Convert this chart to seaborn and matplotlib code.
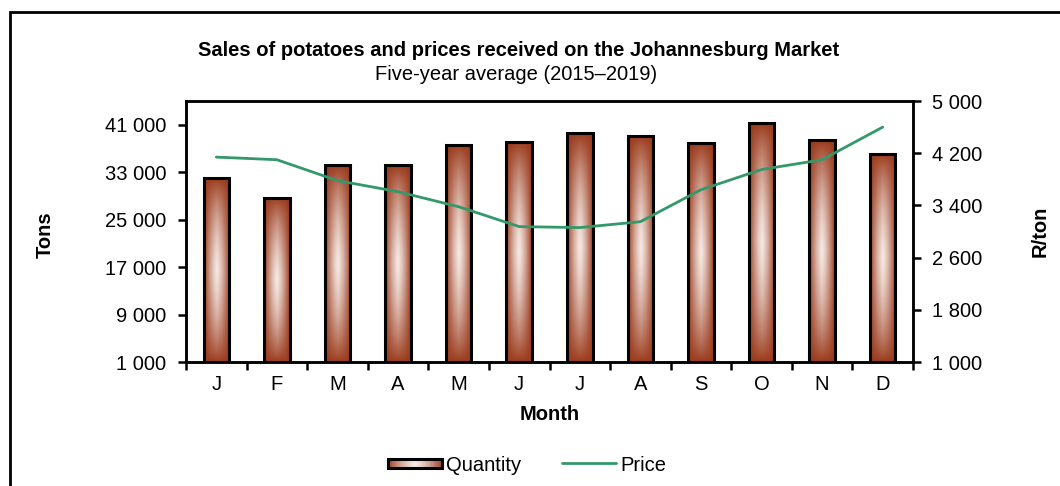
import numpy as np
import pandas as pd
import seaborn as sns
import matplotlib.pyplot as plt
from matplotlib.patches import Rectangle
from matplotlib.lines import Line2D
from matplotlib.legend_handler import HandlerBase
from matplotlib.ticker import FixedLocator, FuncFormatter

# data
month_keys = ['Jan', 'Feb', 'Mar', 'Apr', 'May', 'Jun', 'Jul', 'Aug', 'Sep', 'Oct', 'Nov', 'Dec']
month_labels = ['J', 'F', 'M', 'A', 'M', 'J', 'J', 'A', 'S', 'O', 'N', 'D']
quantity = [32000, 28700, 34200, 34200, 37600, 38100, 39600, 39150, 38000, 41250, 38400, 36100]
price = [4140, 4100, 3780, 3610, 3380, 3075, 3060, 3150, 3640, 3950, 4100, 4600]

tons_ticks = [1000, 9000, 17000, 25000, 33000, 41000]
price_ticks = [1000, 1800, 2600, 3400, 4200, 5000]

dark = np.array([0.60, 0.22, 0.10])
light = np.array([0.96, 0.91, 0.89])
line_color = '#33996a'
fs = 14.5

sns.set_style('white')
plt.rcParams['font.family'] = ['Liberation Sans', 'DejaVu Sans']
plt.rcParams['font.size'] = fs
plt.rcParams['text.color'] = 'black'
plt.rcParams['axes.labelcolor'] = 'black'
plt.rcParams['xtick.color'] = 'black'
plt.rcParams['ytick.color'] = 'black'

df = pd.DataFrame({'month': month_keys, 'quantity': quantity, 'price': price})

fig = plt.figure(figsize=(10.6, 4.86), dpi=100)
ax = fig.add_axes([186 / 1060, 1 - 362 / 486, (913 - 186) / 1060, (362 - 101) / 486])

sns.barplot(data=df, x='month', y='quantity', order=month_keys, ax=ax,
            width=0.42, color=dark, edgecolor='black', linewidth=2.2, zorder=3)

ymin, ymax = 1000, 45000


def gradient(nx=60, ny=200):
    u = np.linspace(-1, 1, nx)
    v = np.linspace(-1, 1, ny)
    U, V = np.meshgrid(u, v)
    t = (1 - np.abs(U) ** 1.3) ** 0.9 * (1 - np.abs(V) ** 1.4) ** 0.8
    return dark + t[..., None] * (light - dark)


grad = gradient()
for p in ax.patches:
    p.set_facecolor('none')
    x0, w, top = p.get_x(), p.get_width(), p.get_y() + p.get_height()
    ax.imshow(grad, extent=[x0, x0 + w, ymin, top], aspect='auto',
              origin='lower', zorder=2, interpolation='bilinear')

ax.set_xlim(-0.5, 11.5)
ax.set_ylim(ymin, ymax)
ax.set_aspect('auto')

# x ticks at the category boundaries, labels at the centres
ax.xaxis.set_major_locator(FixedLocator(np.arange(-0.5, 12, 1)))
ax.xaxis.set_minor_locator(FixedLocator(np.arange(12)))
ax.set_xticklabels([''] * 13)
ax.set_xticklabels(month_labels, minor=True)
ax.tick_params(axis='x', which='major', direction='out', length=6, width=1.8, bottom=True)
ax.tick_params(axis='x', which='minor', length=0, pad=9, labelsize=fs)

fmt = FuncFormatter(lambda v, pos: f'{v:,.0f}'.replace(',', ' '))
ax.set_yticks(tons_ticks)
ax.yaxis.set_major_formatter(fmt)
ax.tick_params(axis='y', direction='out', length=6, width=1.8, left=True, labelsize=fs, pad=8)

for s in ax.spines.values():
    s.set_color('black')
    s.set_linewidth(1.8)

ax.set_xlabel('Month', fontweight='bold', fontsize=fs, labelpad=8, color='black')
ax.set_ylabel('')

ax2 = ax.twinx()
sns.lineplot(x=np.arange(12), y=price, ax=ax2, color=line_color, linewidth=2.0, zorder=4)
ax2.set_ylim(1000, 5000)
ax2.set_xlim(-0.5, 11.5)
ax2.set_yticks(price_ticks)
ax2.yaxis.set_major_formatter(fmt)
ax2.tick_params(axis='y', direction='out', length=6, width=1.8, right=True, labelsize=fs, pad=8)
for s in ax2.spines.values():
    s.set_color('black')
    s.set_linewidth(1.8)

fig.text(45 / 1060, 1 - 235 / 486, 'Tons', rotation=90, fontweight='bold',
         ha='center', va='center', fontsize=fs)
fig.text(1040 / 1060, 1 - 231 / 486, 'R/ton', rotation=90, fontweight='bold',
         ha='center', va='center', fontsize=fs)

fig.text(519 / 1060, 1 - 50 / 486, 'Sales of potatoes and prices received on the Johannesburg Market',
         ha='center', va='center', fontweight='bold', fontsize=fs)
fig.text(516 / 1060, 1 - 74 / 486, 'Five-year average (2015\u20132019)',
         ha='center', va='center', fontsize=fs)


class GradientHandler(HandlerBase):
    def create_artists(self, legend, orig_handle, xdescent, ydescent, width, height, fontsize, trans):
        arts = []
        n = 40
        hh = height * 0.7
        y0 = -ydescent + (height - hh) / 2
        for i in range(n):
            u = (i + 0.5) / n * 2 - 1
            t = (1 - abs(u) ** 1.3) ** 0.9
            c = dark + t * (light - dark)
            arts.append(Rectangle((-xdescent + i * width / n, y0), width / n * 1.05, hh,
                                  facecolor=c, edgecolor='none', transform=trans))
        arts.append(Rectangle((-xdescent, y0), width, hh, facecolor='none',
                              edgecolor='black', linewidth=2.2, transform=trans))
        return arts


qty_handle = Rectangle((0, 0), 1, 1)
price_handle = Line2D([], [], color=line_color, linewidth=2.0)
fig.legend([qty_handle, price_handle], ['Quantity', 'Price'],
           handler_map={Rectangle: GradientHandler()},
           loc='center', bbox_to_anchor=(527 / 1060, 1 - 465 / 486), ncol=2,
           frameon=False, fontsize=fs, handlelength=2.7, handletextpad=0.2,
           columnspacing=2.0)

# outer frame of the chart
fig.add_artist(Rectangle((10 / 1060, -0.1), 1.2, 1 - 12 / 486 + 0.1, transform=fig.transFigure,
                         fill=False, edgecolor='black', linewidth=2.0))

fig.savefig('out.png', dpi=100)
